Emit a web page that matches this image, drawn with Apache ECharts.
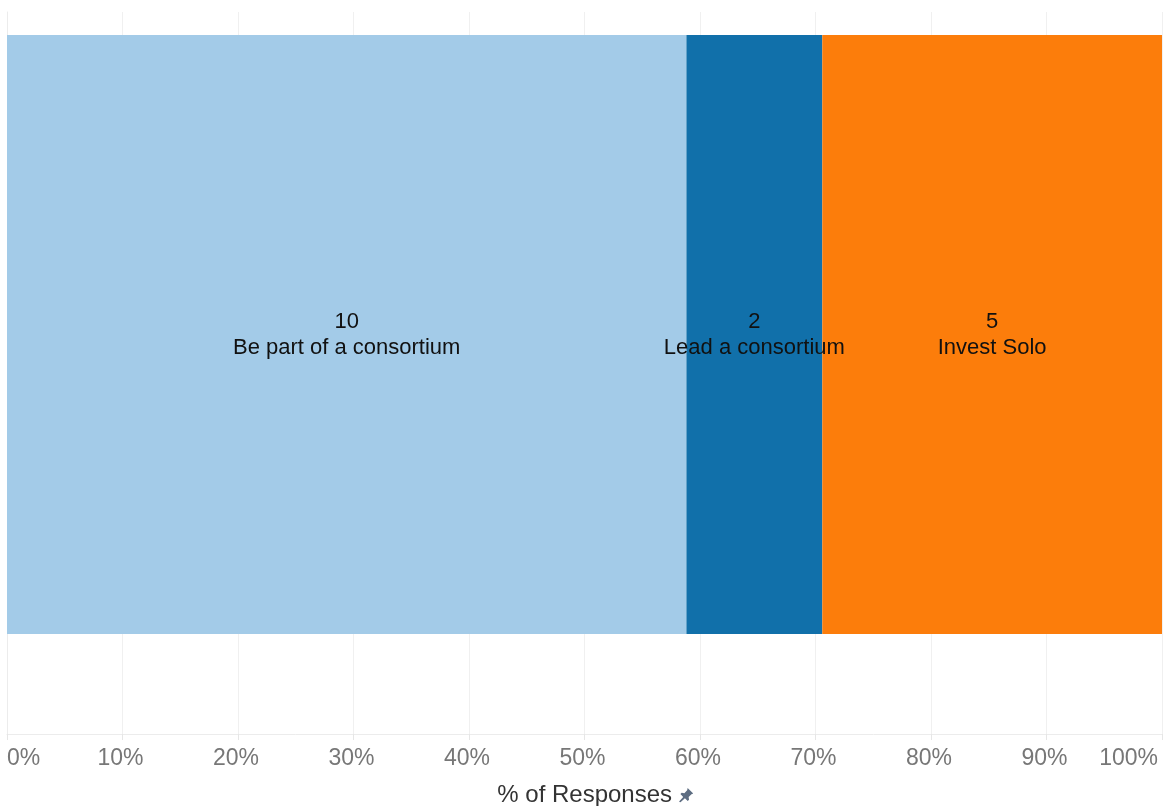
<!DOCTYPE html>
<html>
<head>
<meta charset="utf-8">
<title>% of Responses</title>
<script src="https://cdn.jsdelivr.net/npm/echarts@6/dist/echarts.min.js"></script>
<style>
  html, body { margin: 0; padding: 0; background: #fff; }
  #chart { width: 1170px; height: 806px; }
</style>
</head>
<body>
<div id="chart"></div>
<script>
// Response counts per option
const categories = ['Be part of a consortium', 'Lead a consortium', 'Invest Solo'];
const counts = [10, 2, 5];
const colors = ['#a3cbe8', '#1170aa', '#fc7d0b'];
const tickValues = [0, 10, 20, 30, 40, 50, 60, 70, 80, 90, 100];

const total = counts.reduce((a, b) => a + b, 0);
const FONT = 'Liberation Sans, Arial, Helvetica, sans-serif';

// small pushpin glyph shown after the axis title
const pinSvg =
  '<svg xmlns="http://www.w3.org/2000/svg" width="16" height="16" viewBox="0 0 16 16">' +
  '<path fill="#5d6d82" d="M9.5 0.5 L15.5 6.5 L13.6 7.2 L10.6 10.2 L11 13 L9.6 14.4 L6.6 11.4 L1.6 16 L0.4 14.8 L4.8 10 L1.8 7 L3.2 5.6 L6 6 L9 3 Z"/>' +
  '</svg>';
const pinImage = 'data:image/svg+xml;charset=utf-8,' + encodeURIComponent(pinSvg);

const chart = echarts.init(document.getElementById('chart'), null, { renderer: 'canvas' });

const series = categories.map((name, i) => ({
  name: name,
  type: 'bar',
  stack: 'share',
  xAxisIndex: 1,
  yAxisIndex: 1,
  barWidth: '100%',
  itemStyle: { color: colors[i] },
  label: {
    show: true,
    position: 'inside',
    color: '#111',
    fontFamily: FONT,
    fontSize: 22,
    lineHeight: 26,
    align: 'center',
    formatter: () => counts[i] + '\n' + name
  },
  data: [counts[i] / total * 100]
}));

chart.setOption({
  animation: false,
  textStyle: { fontFamily: FONT },
  grid: [
    { left: 7, right: 8, top: 12, bottom: 72, outerBoundsMode: 'none' },   // gridlines and axis
    { left: 7, right: 8, top: 35, bottom: 172, outerBoundsMode: 'none' }   // bar band
  ],
  xAxis: [
    {
      gridIndex: 0,
      type: 'value',
      min: tickValues[0],
      max: tickValues[tickValues.length - 1],
      interval: tickValues[1] - tickValues[0],
      // leading spacer balances the pin so the words stay centred
      name: '{sp|}% of Responses {pin|}',
      nameLocation: 'middle',
      nameGap: 49,
      nameTextStyle: {
        color: '#333',
        fontSize: 24,
        fontFamily: FONT,
        rich: {
          sp: { width: 22, height: 15 },
          pin: {
            width: 15,
            height: 15,
            backgroundColor: { image: pinImage }
          }
        }
      },
      axisLine: { show: true, lineStyle: { color: '#ececec', width: 1 } },
      axisTick: { show: true, length: 6, lineStyle: { color: '#e6e6e6' } },
      splitLine: { show: true, lineStyle: { color: '#f0f0f0', width: 1 } },
      axisLabel: {
        color: '#777',
        fontSize: 23,
        fontFamily: FONT,
        margin: 13,
        padding: [0, 4, 0, 0],
        alignMinLabel: 'left',
        alignMaxLabel: 'right',
        formatter: v => v + '%'
      }
    },
    {
      gridIndex: 1,
      type: 'value',
      min: 0,
      max: 100,
      show: false
    }
  ],
  yAxis: [
    {
      gridIndex: 0,
      type: 'category',
      data: [''],
      axisLine: { show: true, lineStyle: { color: '#ececec' } },
      axisTick: { show: false },
      axisLabel: { show: false },
      splitLine: { show: false }
    },
    {
      gridIndex: 1,
      type: 'category',
      data: ['Responses'],
      show: false
    }
  ],
  series: series
});
</script>
</body>
</html>
